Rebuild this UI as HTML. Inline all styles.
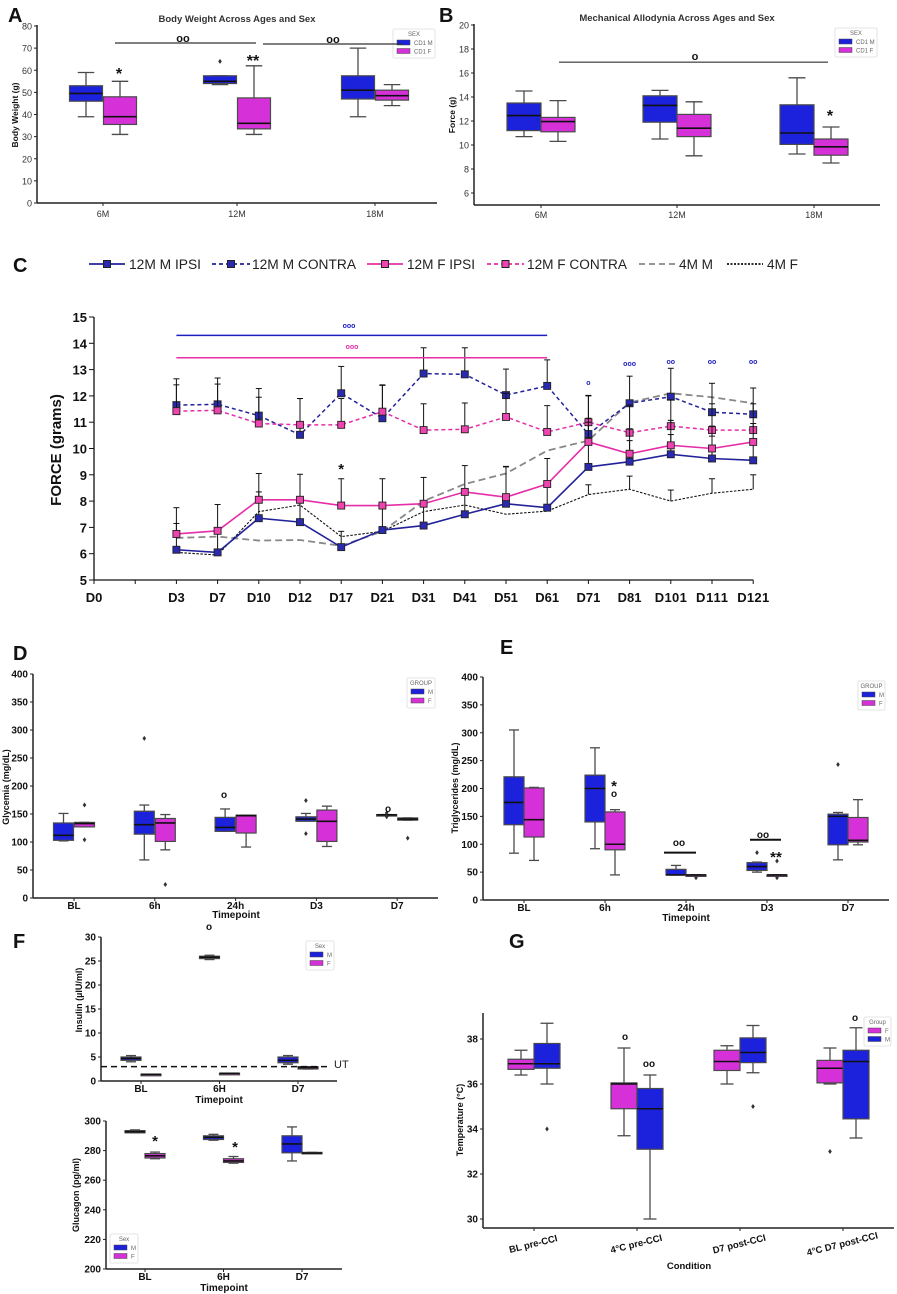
<!DOCTYPE html>
<html><head><meta charset="utf-8"><title>Figure panels A-G</title>
<style>
html,body{margin:0;padding:0;background:#fff;}
svg{display:block;font-family:"Liberation Sans",sans-serif;}
</style></head>
<body>
<svg id="fig" width="897" height="1294" viewBox="0 0 897 1294" xmlns="http://www.w3.org/2000/svg"></svg>
<script>
// ---------- DATA ----------
const A_cats=["6M","12M","18M"];
const A_M=[[39,46,49.5,53,59],[53.5,54,55,57.5,57.5],[39,47,51,57.5,70]];
const A_F=[[31,35.5,39,48,55],[31,33.5,36,47.5,62],[44,46.5,48.5,51,53.5]];
const A_Mout=[[],[64],[]];
const A_ticks=[0,10,20,30,40,50,60,70,80];
const B_cats=["6M","12M","18M"];
const B_M=[[10.7,11.2,12.45,13.5,14.5],[10.5,11.9,13.3,14.1,14.55],[9.25,10.05,11,13.35,15.6]];
const B_F=[[10.3,11.1,11.95,12.3,13.7],[9.1,10.7,11.4,12.55,13.6],[8.5,9.15,9.85,10.5,11.5]];
const B_ticks=[6,8,10,12,14,16,18,20];
const C_cats=["D0","","D3","D7","D10","D12","D17","D21","D31","D41","D51","D61","D71","D81","D101","D111","D121"];
const C_ticks=[5,6,7,8,9,10,11,12,13,14,15];
const C_mIpsi=[6.15,6.05,7.35,7.2,6.25,6.9,7.07,7.5,7.9,7.75,9.3,9.5,9.78,9.62,9.55];
const C_mContra=[11.65,11.68,11.25,10.52,12.1,11.15,12.85,12.82,12.03,12.38,10.55,11.72,11.97,11.38,11.3];
const C_fIpsi=[6.75,6.87,8.05,8.05,7.83,7.83,7.9,8.35,8.15,8.65,10.25,9.8,10.12,10.0,10.25];
const C_fContra=[11.42,11.45,10.95,10.9,10.9,11.4,10.7,10.73,11.2,10.63,11.0,10.6,10.85,10.7,10.7];
const C_4mM=[6.6,6.65,6.5,6.52,6.3,6.85,8.0,8.65,9.05,9.92,10.3,11.75,12.1,11.95,11.72];
const C_4mF=[6.05,5.95,7.6,7.85,6.65,6.85,7.6,7.85,7.5,7.62,8.25,8.45,8.0,8.3,8.45];
const C_errMIpsi=[1.0,0.7,1.0,0.9,0.6,0.9,0.8,0.8,1.4,0.9,1.7,0.8,0.75,0.85,0.7];
const C_errMContra=[1.0,1.0,1.03,1.38,1.02,1.27,0.98,1.01,0.99,0.99,1.47,1.03,1.08,1.1,1.0];
const C_errFIpsi=[1.0,1.0,1.0,0.97,1.02,1.02,1.0,1.0,1.17,0.97,0.9,0.95,0.95,0.85,0.7];
const C_errFContra=[1.0,1.0,1.0,1.0,1.0,1.0,1.0,1.0,0.9,1.0,1.0,1.05,1.0,1.0,1.0];
const C_err4mF=[0,0,0,0,0,0,0,0,0,0,0.37,0.5,0.42,0.55,0.55];
const D_cats=["BL","6h","24h","D3","D7"];
const D_M=[[102,103,112,134,151],[68,114,131,155,166],[119,119,126,144,159],[138,137,141,145,151],[148,148,148.5,149,149]];
const D_F=[[127,127,133,135,135],[86,101,134,142,149],[91,116,147,148,148],[92,101,137,157,164],[139,139,141,143,143]];
const D_Mout=[[],[285],[],[174,115],[145,152]];
const D_Fout=[[166,104],[24],[],[],[107]];
const D_ticks=[0,50,100,150,200,250,300,350,400];
const E_cats=["BL","6h","24h","D3","D7"];
const E_M=[[84,135,175,221,305],[92,140,200,224,273],[45,45,45,55,62],[50,53,60,67,68],[72,99,150,154,157]];
const E_F=[[71,113,144,201,202],[45,90,100,158,162],[45,45,45,45,45],[45,45,45,45,45],[99,104,107,148,180]];
const E_Mout=[[],[],[],[85],[243]];
const E_Fout=[[],[],[40],[70,40],[]];
const E_ticks=[0,50,100,150,200,250,300,350,400];
const F_cats=["BL","6H","D7"];
const FI_M=[[4.0,4.3,4.7,5.0,5.3],[25.3,25.5,25.8,26.0,26.2],[3.5,3.8,4.3,5.0,5.3]];
const FI_F=[[1.4,1.4,1.4,1.4,1.4],[1.6,1.6,1.6,1.6,1.6],[2.5,2.5,2.8,3.0,3.0]];
const FI_ticks=[0,5,10,15,20,25,30];
const FI_ut=3;
const FG_M=[[292,292,292.8,293.5,294],[287,287.5,289,290,291],[273,278.5,284.5,290,296]];
const FG_F=[[274.5,275,276.5,278,279],[271.5,272,273,274.5,276],[278,278,278.3,278.8,278.8]];
const FG_ticks=[200,220,240,260,280,300];
const G_cats=["BL pre-CCI","4°C pre-CCI","D7 post-CCI","4°C D7 post-CCI"];
const G_F=[[36.4,36.65,36.9,37.1,37.5],[33.7,34.9,36.0,36.05,37.6],[36.0,36.6,37.0,37.5,37.7],[36.0,36.05,36.7,37.05,37.6]];
const G_M=[[36.0,36.7,36.9,37.8,38.7],[30.0,33.1,34.9,35.8,36.4],[36.5,36.95,37.4,38.05,38.6],[33.6,34.45,37.0,37.5,38.5]];
const G_Fout=[[],[],[],[33]];
const G_Mout=[[34],[],[35],[]];
const G_ticks=[30,32,34,36,38];

// ---------- HELPERS ----------
const NS="http://www.w3.org/2000/svg";
const svg=document.getElementById('fig');
const BLUE="#1c22dc", MAG="#d631d9", EDGE="#4a4a4a";
function el(tag,attrs,name,parent){
  const e=document.createElementNS(NS,tag);
  for(const k in attrs) e.setAttribute(k,attrs[k]);
  
  
  (parent||svg).appendChild(e);
  return e;
}
function txt(x,y,s,opts,name,parent){
  const a=Object.assign({x:x,y:y,'font-size':10,fill:'#111'},opts||{});
  const t=el('text',a,name,parent);
  t.textContent=s;
  return t;
}
function lin(v0,p0,v1,p1){return v=>p0+(v-v0)*(p1-p0)/(v1-v0);}
function axes(P,name){
  const g=el('g',{},name);
  el('line',{x1:P.xL,y1:P.yTop,x2:P.xL,y2:P.yBot,stroke:'#222','stroke-width':1.5},'y-axis-line',g);
  el('line',{x1:P.xL,y1:P.yBot,x2:P.xR,y2:P.yBot,stroke:'#222','stroke-width':1.5},'x-axis-line',g);
  P.ticks.forEach(v=>{
    const y=P.y(v);
    el('line',{x1:P.xL-3,y1:y,x2:P.xL,y2:y,stroke:'#222'},'y-tick',g);
    txt(P.xL-5,y+3.5,String(v),{'text-anchor':'end','font-size':P.tfs,'font-weight':P.tfw,fill:P.tcol},'y-tick-label',g);
  });
  P.cats.forEach((c,i)=>{
    const x=P.x(i);
    el('line',{x1:x,y1:P.yBot,x2:x,y2:P.yBot+3,stroke:'#222'},'x-tick',g);
    if(!P.noXLab) txt(x,P.yBot+P.xlOff,c,{'text-anchor':'middle','font-size':P.tfs,'font-weight':P.tfw,fill:P.tcol},'x-tick-label',g);
  });
  return g;
}
function box(P,cx,w,s,color,outs,name){
  const g=el('g',{},name);
  const [lo,q1,md,q3,hi]=s;
  el('line',{x1:cx,y1:P.y(lo),x2:cx,y2:P.y(q1),stroke:EDGE,'stroke-width':1.3},'whisker-low',g);
  el('line',{x1:cx,y1:P.y(q3),x2:cx,y2:P.y(hi),stroke:EDGE,'stroke-width':1.3},'whisker-high',g);
  el('line',{x1:cx-w/4,y1:P.y(lo),x2:cx+w/4,y2:P.y(lo),stroke:EDGE,'stroke-width':1.3},'cap-low',g);
  el('line',{x1:cx-w/4,y1:P.y(hi),x2:cx+w/4,y2:P.y(hi),stroke:EDGE,'stroke-width':1.3},'cap-high',g);
  const yt=P.y(q3), yb=P.y(q1);
  el('rect',{x:cx-w/2,y:yt,width:w,height:Math.max(yb-yt,1.5),fill:color,stroke:EDGE,'stroke-width':1.2},'box',g);
  el('line',{x1:cx-w/2,y1:P.y(md),x2:cx+w/2,y2:P.y(md),stroke:'#111','stroke-width':1.6},'median',g);
  (outs||[]).forEach(v=>{
    el('path',{d:`M${cx},${P.y(v)-2.5}L${cx+1.8},${P.y(v)}L${cx},${P.y(v)+2.5}L${cx-1.8},${P.y(v)}Z`,fill:'#333'},'outlier',g);
  });
}
function boxes(P,M,F,Mo,Fo,off,w,order){
  P.cats.forEach((c,i)=>{
    const cx=P.x(i);
    if(order==='FM'){
      box(P,cx-off,w,F[i],MAG,Fo?Fo[i]:[],'box-f-'+i);
      box(P,cx+off,w,M[i],BLUE,Mo?Mo[i]:[],'box-m-'+i);
    } else {
      box(P,cx-off,w,M[i],BLUE,Mo?Mo[i]:[],'box-m-'+i);
      box(P,cx+off,w,F[i],MAG,Fo?Fo[i]:[],'box-f-'+i);
    }
  });
}
function legend(x,y,w,h,title,items,name){
  const g=el('g',{},name);
  el('rect',{x:x,y:y,width:w,height:h,fill:'#fff',stroke:'#ddd','stroke-width':0.8,rx:1.5},'legend-frame',g);
  txt(x+w/2,y+7,title,{'text-anchor':'middle','font-size':6,fill:'#666'},'legend-title',g);
  items.forEach((it,i)=>{
    const yy=y+11+i*(h-12)/items.length;
    el('rect',{x:x+4,y:yy,width:13,height:5,fill:it.c,stroke:'#444','stroke-width':0.5},'legend-swatch',g);
    txt(x+21,yy+5,it.l,{'font-size':6,fill:'#666'},'legend-entry',g);
  });
}
function sym(x,y,s,size,color,name){return txt(x,y,s,{'text-anchor':'middle','font-size':size,'font-weight':'bold',fill:color||'#111'},name);}

// ---------- PANEL A ----------
(function(){
  const P={xL:37,xR:437,yTop:25,yBot:203,ticks:A_ticks,cats:A_cats,tfs:9,tfw:'normal',tcol:'#333',xlOff:14};
  P.y=lin(0,203,80,26);P.x=i=>[103,237,375][i];
  axes(P,'panel-a-axes');
  boxes(P,A_M,A_F,A_Mout,null,17,33);
  txt(237,22,'Body Weight Across Ages and Sex',{'text-anchor':'middle','font-size':9.5,'font-weight':'bold',fill:'#333'},'panel-a-title');
  txt(0,0,'Body Weight (g)',{'text-anchor':'middle','font-size':8.5,'font-weight':'bold',transform:'translate(18,115) rotate(-90)'},'panel-a-y-title');
  legend(393,29,42,29,'SEX',[{l:'CD1 M',c:BLUE},{l:'CD1 F',c:MAG}],'panel-a-legend');
  el('line',{x1:115,y1:43,x2:256,y2:43,stroke:'#333','stroke-width':1.2},'sig-bar-6m-12m');
  el('line',{x1:263,y1:44,x2:402,y2:44,stroke:'#333','stroke-width':1.2},'sig-bar-12m-18m');
  sym(183,42,'oo',11,'#111','sig-mark');sym(333,43,'oo',11,'#111','sig-mark');
  sym(119,79,'*',16,'#111','star-6m');sym(253,66,'**',16,'#111','star-12m');
  txt(8,22,'A',{'font-size':20,'font-weight':'bold'},'panel-label-a');
})();
// ---------- PANEL B ----------
(function(){
  const P={xL:474,xR:880,yTop:24,yBot:205,ticks:B_ticks,cats:B_cats,tfs:9,tfw:'normal',tcol:'#333',xlOff:13};
  P.y=lin(6,193,20,25);P.x=i=>[541,677,814][i];
  axes(P,'panel-b-axes');
  boxes(P,B_M,B_F,null,null,17,34);
  txt(677,21,'Mechanical Allodynia Across Ages and Sex',{'text-anchor':'middle','font-size':9.5,'font-weight':'bold',fill:'#333'},'panel-b-title');
  txt(0,0,'Force (g)',{'text-anchor':'middle','font-size':8.5,'font-weight':'bold',transform:'translate(455,115) rotate(-90)'},'panel-b-y-title');
  legend(835,28,42,29,'SEX',[{l:'CD1 M',c:BLUE},{l:'CD1 F',c:MAG}],'panel-b-legend');
  el('line',{x1:559,y1:P.y(16.9),x2:828,y2:P.y(16.9),stroke:'#555','stroke-width':1.3},'sig-bar-6m-18m');
  sym(695,60,'o',11,'#111','sig-mark');
  sym(830,121,'*',16,'#111','star-18m');
  txt(439,22,'B',{'font-size':20,'font-weight':'bold'},'panel-label-b');
})();
// ---------- PANEL C ----------
(function(){
  const y=lin(5,580,15,317), x=i=>94+i*41.2;
  const g=el('g',{},'panel-c-axes');
  el('line',{x1:94,y1:317,x2:94,y2:580,stroke:'#111','stroke-width':1.3},'y-axis-line',g);
  el('line',{x1:94,y1:580,x2:x(16),y2:580,stroke:'#111','stroke-width':1.3},'x-axis-line',g);
  C_ticks.forEach(v=>{
    el('line',{x1:89,y1:y(v),x2:94,y2:y(v),stroke:'#111'},'y-tick',g);
    txt(87,y(v)+5,String(v),{'text-anchor':'end','font-size':13,'font-weight':'bold'},'y-tick-label',g);
  });
  C_cats.forEach((c,i)=>{
    el('line',{x1:x(i),y1:580,x2:x(i),y2:584,stroke:'#111'},'x-tick',g);
    if(c) { const t=txt(x(i),602,c,{'text-anchor':'middle','font-size':13,'font-weight':'bold'},'x-tick-label',g);
      if(c.length>3) t.setAttribute('textLength',c.length*8.0); }
  });
  txt(0,0,'FORCE (grams)',{'text-anchor':'middle','font-size':15,'font-weight':'bold',transform:'translate(61,450) rotate(-90)'},'panel-c-y-title');
  const xi=j=>x(j+2);
  function series(vals,err,color,w,dash,marker,name){
    const sg=el('g',{},name);
    if(err) vals.forEach((v,j)=>{ if(err[j]>0){
      el('line',{x1:xi(j),y1:y(v),x2:xi(j),y2:y(v+err[j]),stroke:'#111','stroke-width':1},'error-bar',sg);
      el('line',{x1:xi(j)-3,y1:y(v+err[j]),x2:xi(j)+3,y2:y(v+err[j]),stroke:'#111','stroke-width':1},'error-cap',sg);}});
    el('polyline',{points:vals.map((v,j)=>xi(j)+','+y(v)).join(' '),fill:'none',stroke:color,'stroke-width':w,'stroke-dasharray':dash||'none'},'series-line',sg);
    if(marker) vals.forEach((v,j)=>{
      el('rect',{x:xi(j)-3.5,y:y(v)-3.5,width:7,height:7,fill:marker,stroke:'#222','stroke-width':0.9},'point',sg);});
  }
  series(C_4mM,null,'#888',1.8,'7,4',null,'series-4m-m');
  series(C_4mF,C_err4mF,'#111',1.1,'2.5,1.5',null,'series-4m-f');
  series(C_mContra,C_errMContra,'#22229a',1.5,'4,3','#2a2ab0','series-12m-m-contra');
  series(C_fContra,C_errFContra,'#e52ea8',1.5,'4,3','#ee44b0','series-12m-f-contra');
  series(C_mIpsi,C_errMIpsi,'#22229a',1.6,null,'#2a2ab0','series-12m-m-ipsi');
  series(C_fIpsi,C_errFIpsi,'#e52ea8',1.6,null,'#ee44b0','series-12m-f-ipsi');
  el('line',{x1:x(2),y1:y(14.3),x2:x(11),y2:y(14.3),stroke:'#2020c0','stroke-width':1.5},'sig-bar-m');
  el('line',{x1:x(2),y1:y(13.45),x2:x(11),y2:y(13.45),stroke:'#e52ea8','stroke-width':1.5},'sig-bar-f');
  sym(349,328,'ooo',7,'#2020c0','sig-mark-m');sym(352,349,'ooo',7,'#e52ea8','sig-mark-f');
  sym(x(12),385,'o',7,'#2020c0','sig-mark');sym(x(13),366,'ooo',7,'#2020c0','sig-mark');
  sym(x(14),364,'oo',7,'#2020c0','sig-mark');sym(x(15),364,'oo',7,'#2020c0','sig-mark');sym(x(16),364,'oo',7,'#2020c0','sig-mark');
  sym(x(6),474,'*',15,'#111','star-d17');
  const L=[{x1:89,x2:125,c:'#22229a',d:null,m:'#2a2ab0',t:'12M M IPSI',tx:129,te:201},
    {x1:212,x2:250,c:'#22229a',d:'4,3',m:'#2a2ab0',t:'12M M CONTRA',tx:252,te:356},
    {x1:367,x2:403,c:'#e52ea8',d:null,m:'#ee44b0',t:'12M F IPSI',tx:407,te:475},
    {x1:487,x2:524,c:'#e52ea8',d:'4,3',m:'#ee44b0',t:'12M F CONTRA',tx:527,te:627},
    {x1:639,x2:675,c:'#888',d:'6,4',m:null,t:'4M M',tx:679,te:713},
    {x1:727,x2:763,c:'#111',d:'2,1.5',m:null,t:'4M F',tx:767,te:798}];
  const lg=el('g',{},'panel-c-legend');
  L.forEach(it=>{
    const eg=el('g',{},'legend-entry',lg);
    el('line',{x1:it.x1,y1:264,x2:it.x2,y2:264,stroke:it.c,'stroke-width':1.8,'stroke-dasharray':it.d||'none'},'legend-line',eg);
    if(it.m) el('rect',{x:(it.x1+it.x2)/2-3.5,y:260.5,width:7,height:7,fill:it.m,stroke:'#222'},'legend-marker',eg);
    txt(it.tx,269,it.t,{'font-size':13.5,textLength:it.te-it.tx,lengthAdjust:'spacingAndGlyphs',fill:'#222'},'legend-label',eg);
  });
  txt(13,272,'C',{'font-size':20,'font-weight':'bold'},'panel-label-c');
})();
// ---------- PANEL D ----------
(function(){
  const P={xL:33,xR:438,yTop:674,yBot:898,ticks:D_ticks,cats:D_cats,tfs:10,tfw:'bold',tcol:'#111',xlOff:11};
  P.y=lin(0,898,400,674);P.x=i=>74+i*80.8;
  axes(P,'panel-d-axes');
  boxes(P,D_M,D_F,D_Mout,D_Fout,10.5,20);
  txt(236,918,'Timepoint',{'text-anchor':'middle','font-size':10,'font-weight':'bold'},'panel-d-x-title');
  txt(0,0,'Glycemia (mg/dL)',{'text-anchor':'middle','font-size':9,'font-weight':'bold',transform:'translate(9,787) rotate(-90)'},'panel-d-y-title');
  legend(407,678,28,30,'GROUP',[{l:'M',c:BLUE},{l:'F',c:MAG}],'panel-d-legend');
  sym(224,798,'o',10,'#111','sig-mark');sym(388,812,'o',10,'#111','sig-mark');
  txt(13,660,'D',{'font-size':20,'font-weight':'bold'},'panel-label-d');
})();
// ---------- PANEL E ----------
(function(){
  const P={xL:483,xR:889,yTop:677,yBot:900,ticks:E_ticks,cats:E_cats,tfs:10,tfw:'bold',tcol:'#111',xlOff:11};
  P.y=lin(0,900,400,677);P.x=i=>524+i*81;
  axes(P,'panel-e-axes');
  boxes(P,E_M,E_F,E_Mout,E_Fout,10,20);
  txt(686,921,'Timepoint',{'text-anchor':'middle','font-size':10,'font-weight':'bold'},'panel-e-x-title');
  txt(0,0,'Triglycerides (mg/dL)',{'text-anchor':'middle','font-size':9,'font-weight':'bold',transform:'translate(458,788) rotate(-90)'},'panel-e-y-title');
  legend(858,681,27,29,'GROUP',[{l:'M',c:BLUE},{l:'F',c:MAG}],'panel-e-legend');
  sym(614,791,'*',15,'#111','star-6h');sym(614,797,'o',10,'#111','sig-mark');
  el('line',{x1:664,y1:P.y(85),x2:696,y2:P.y(85),stroke:'#111','stroke-width':2},'sig-bar-24h');
  sym(679,846,'oo',10,'#111','sig-mark');
  el('line',{x1:750,y1:P.y(108),x2:781,y2:P.y(108),stroke:'#111','stroke-width':2},'sig-bar-d3');
  sym(763,838,'oo',10,'#111','sig-mark');
  sym(776,862,'**',15,'#111','star-d3');
  txt(500,654,'E',{'font-size':20,'font-weight':'bold'},'panel-label-e');
})();
// ---------- PANEL F ----------
(function(){
  const P={xL:101,xR:337,yTop:937,yBot:1081,ticks:FI_ticks,cats:F_cats,tfs:10,tfw:'bold',tcol:'#111',xlOff:11};
  P.y=lin(0,1081,30,937);P.x=i=>141+i*78.5;
  axes(P,'panel-f-insulin-axes');
  boxes(P,FI_M,FI_F,null,null,10,20);
  el('line',{x1:101,y1:P.y(FI_ut),x2:330,y2:P.y(FI_ut),stroke:'#111','stroke-width':1.5,'stroke-dasharray':'6,4'},'ut-threshold-line');
  txt(334,1068,'UT',{'font-size':11,fill:'#222'},'ut-label');
  sym(209,930,'o',10,'#111','sig-mark');
  txt(219,1103,'Timepoint',{'text-anchor':'middle','font-size':10,'font-weight':'bold'},'panel-f-insulin-x-title');
  txt(0,0,'Insulin  (µIU/ml)',{'text-anchor':'middle','font-size':9,'font-weight':'bold',transform:'translate(82,1000) rotate(-90)'},'panel-f-insulin-y-title');
  legend(306,941,28,29,'Sex',[{l:'M',c:BLUE},{l:'F',c:MAG}],'panel-f-insulin-legend');
  const Q={xL:106,xR:342,yTop:1121,yBot:1269,ticks:FG_ticks,cats:F_cats,tfs:10,tfw:'bold',tcol:'#111',xlOff:11};
  Q.y=lin(200,1269,300,1121);Q.x=i=>145+i*78.5;
  axes(Q,'panel-f-glucagon-axes');
  boxes(Q,FG_M,FG_F,null,null,10,20);
  sym(155,1146,'*',15,'#111','star-bl');sym(235,1152,'*',15,'#111','star-6h');
  txt(224,1291,'Timepoint',{'text-anchor':'middle','font-size':10,'font-weight':'bold'},'panel-f-glucagon-x-title');
  txt(0,0,'Glucagon (pg/ml)',{'text-anchor':'middle','font-size':9,'font-weight':'bold',transform:'translate(79,1195) rotate(-90)'},'panel-f-glucagon-y-title');
  legend(110,1234,28,29,'Sex',[{l:'M',c:BLUE},{l:'F',c:MAG}],'panel-f-glucagon-legend');
  txt(13,948,'F',{'font-size':20,'font-weight':'bold'},'panel-label-f');
})();
// ---------- PANEL G ----------
(function(){
  const P={xL:483,xR:894,yTop:1013,yBot:1228,ticks:G_ticks,cats:G_cats,tfs:10,tfw:'bold',tcol:'#111',xlOff:0,noXLab:true};
  P.y=lin(30,1219,38,1039);P.x=i=>534+i*103;
  axes(P,'panel-g-axes');
  boxes(P,G_M,G_F,G_Mout,G_Fout,13,26,'FM');
  G_cats.forEach((c,i)=>{
    txt(0,0,c,{'text-anchor':'middle','font-size':9.5,'font-weight':'bold',transform:`translate(${P.x(i)},${1247}) rotate(-14)`},'x-tick-label');
  });
  txt(689,1269,'Condition',{'text-anchor':'middle','font-size':9.5,'font-weight':'bold'},'panel-g-x-title');
  txt(0,0,'Temperature (°C)',{'text-anchor':'middle','font-size':9,'font-weight':'bold',transform:'translate(463,1120) rotate(-90)'},'panel-g-y-title');
  legend(864,1017,27,29,'Group',[{l:'F',c:MAG},{l:'M',c:BLUE}],'panel-g-legend');
  sym(625,1040,'o',10,'#111','sig-mark');sym(649,1067,'oo',10,'#111','sig-mark');sym(855,1021,'o',10,'#111','sig-mark');
  txt(509,948,'G',{'font-size':20,'font-weight':'bold'},'panel-label-g');
})();
</script>
</body></html>
